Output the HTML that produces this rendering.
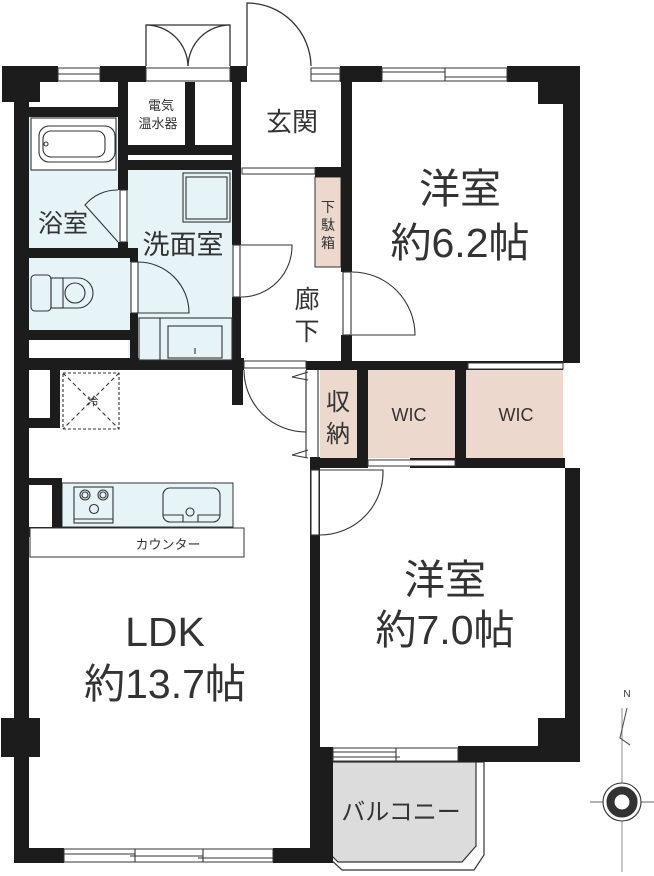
<!DOCTYPE html>
<html><head><meta charset="utf-8"><style>
html,body{margin:0;padding:0;background:#fff;}
svg{display:block;}
text{font-family:"Liberation Sans","Noto Sans CJK JP",sans-serif;fill:#333;}
</style></head><body>
<svg width="654" height="876" viewBox="0 0 654 876" xmlns="http://www.w3.org/2000/svg">
<g fill="none" stroke="#333" stroke-width="1.3">
<path d="M146 66 V25 H230 V66"/>
<path d="M146 25 A42 42 0 0 1 188 66"/>
<path d="M230 25 A42 42 0 0 0 188 66"/>
<path d="M247 66 V3 A64 64 0 0 1 311 66"/>
</g>
<rect x="29" y="117" width="89" height="131" fill="#e6f4f8"/>
<rect x="128" y="170" width="104" height="190" fill="#e6f4f8"/>
<rect x="29" y="258" width="101" height="72" fill="#e6f4f8"/>
<rect x="62" y="483" width="171" height="44" fill="#e6f4f8" stroke="#333" stroke-width="1"/>
<rect x="315" y="177" width="26" height="90" fill="#ecd8cc" stroke="#333" stroke-width="1"/>
<rect x="320" y="370" width="37" height="88" fill="#ecd8cc"/>
<rect x="368" y="370" width="87" height="88" fill="#ecd8cc"/>
<rect x="466" y="370" width="97" height="88" fill="#ecd8cc"/>
<path d="M318 762 H484 V855 L474 870 H342 L318 848 Z" fill="none" stroke="#333" stroke-width="1.2"/>
<path d="M326 762 H476 V846 L462 862 H338 L326 850 Z" fill="#dcdcdc" stroke="#333" stroke-width="1.2"/>
<g fill="#1c1c1c">
<rect x="2" y="66" width="38" height="36"/>
<rect x="2" y="66" width="56" height="16"/>
<rect x="100" y="66" width="46" height="16"/>
<rect x="230" y="66" width="17" height="16"/>
<rect x="340" y="66" width="42" height="16"/>
<rect x="507" y="66" width="73" height="16"/>
<rect x="538" y="82" width="25" height="22"/>
<rect x="563" y="66" width="17" height="297"/>
<rect x="14" y="66" width="15" height="797"/>
<rect x="1" y="718" width="39" height="39"/>
<rect x="14" y="848" width="50" height="15"/>
<rect x="273" y="848" width="53" height="15"/>
<rect x="310" y="458" width="10" height="405"/>
<rect x="320" y="747" width="13" height="116"/>
<rect x="458" y="746" width="122" height="16"/>
<rect x="538" y="718" width="42" height="44"/>
<rect x="565" y="468" width="15" height="294"/>
<rect x="29" y="107" width="99" height="10"/>
<rect x="118" y="82" width="10" height="108"/>
<rect x="118" y="242" width="10" height="16"/>
<rect x="185" y="82" width="10" height="63"/>
<rect x="118" y="145" width="123" height="10"/>
<rect x="118" y="160" width="123" height="10"/>
<rect x="232" y="66" width="9" height="179"/>
<rect x="232" y="297" width="9" height="73"/>
<rect x="29" y="248" width="109" height="10"/>
<rect x="130" y="258" width="8" height="4"/>
<rect x="130" y="313" width="8" height="47"/>
<rect x="29" y="330" width="101" height="10"/>
<rect x="14" y="358" width="230" height="12"/>
<rect x="306" y="361" width="257" height="9"/>
<rect x="232" y="370" width="11" height="35"/>
<rect x="341" y="82" width="11" height="190"/>
<rect x="341" y="335" width="11" height="30"/>
<rect x="315" y="167" width="26" height="10"/>
<rect x="310" y="457" width="10" height="11"/>
<rect x="357" y="370" width="11" height="98"/>
<rect x="455" y="370" width="11" height="98"/>
<rect x="320" y="458" width="48" height="10"/>
<rect x="410" y="458" width="155" height="10"/>
<rect x="29" y="418" width="31" height="10"/>
<rect x="50" y="370" width="10" height="58"/>
<rect x="29" y="478" width="33" height="7"/>
<rect x="52" y="478" width="10" height="50"/>
<rect x="29" y="527" width="91" height="10"/>
</g>
<g fill="#fff" stroke="#333" stroke-width="1">
<rect x="58" y="68" width="42" height="13"/>
<rect x="146" y="68" width="84" height="13"/>
<rect x="311" y="68" width="29" height="13"/>
<rect x="382" y="68" width="125" height="13"/>
<rect x="64" y="849" width="209" height="13"/>
<rect x="333" y="748" width="125" height="13"/>
<rect x="468" y="363" width="95" height="6"/>
<rect x="368" y="460" width="87" height="6"/>
<rect x="30" y="528" width="214" height="29"/>
<rect x="242" y="168" width="73" height="6"/>
<rect x="244" y="361" width="62" height="7"/>
</g>
<g fill="none" stroke="#333" stroke-width="1.1">
<line x1="58" y1="74" x2="100" y2="74"/><line x1="311" y1="74" x2="340" y2="74"/>
<line x1="382" y1="72" x2="445" y2="72"/><line x1="445" y1="77" x2="507" y2="77"/><line x1="445" y1="68" x2="445" y2="81"/>
<line x1="64" y1="854" x2="135" y2="854"/><line x1="135" y1="849" x2="135" y2="862"/><line x1="130" y1="856" x2="203" y2="856"/><line x1="203" y1="849" x2="203" y2="862"/><line x1="198" y1="858" x2="273" y2="858"/>
<line x1="333" y1="752" x2="396" y2="752"/><line x1="396" y1="748" x2="396" y2="761"/><line x1="333" y1="757" x2="400" y2="757"/>
<rect x="31" y="118" width="85" height="52" fill="#fff"/>
<rect x="39" y="126" width="76" height="36" rx="10"/>
<rect x="43" y="131" width="62" height="26" rx="8"/>
<circle cx="46" cy="144" r="2"/>
<rect x="31" y="275" width="20" height="36" rx="4"/>
<rect x="51" y="278" width="12" height="30"/>
<path d="M63 278 H78 A15 15 0 0 1 78 308 H63"/>
<circle cx="75" cy="293" r="10"/>
<rect x="183" y="173" width="47" height="49"/><rect x="186" y="177" width="41" height="42"/>
<rect x="139" y="318" width="93" height="42" fill="#e6f4f8"/>
<line x1="160" y1="318" x2="160" y2="360"/>
<rect x="168" y="326" width="54" height="32"/>
<line x1="195" y1="348" x2="195" y2="354"/>
<rect x="120" y="190" width="7" height="52" fill="#fff"/>
<path d="M118 242 L85 205 A42 42 0 0 1 118 190"/>
<rect x="131" y="262" width="7" height="51" fill="#fff"/>
<path d="M138 262 A51 51 0 0 1 189 313 H138"/>
<rect x="233" y="245" width="7" height="52" fill="#fff"/>
<path d="M241 245 H292 A51 51 0 0 1 241 297"/>
<rect x="343" y="272" width="8" height="63" fill="#fff"/>
<path d="M352 272 A63 63 0 0 1 415 335 H352"/>
<path d="M244 370 A62 62 0 0 0 306 432 V370"/>
<line x1="306" y1="370" x2="306" y2="458"/><line x1="318" y1="370" x2="318" y2="458"/>
<path d="M308 372 L292 377 L308 380"/><path d="M308 450 L292 455 L308 458"/>
<rect x="311" y="470" width="8" height="65" fill="#fff"/>
<path d="M320 470 H383 A63 63 0 0 1 320 535"/>
<rect x="63" y="373" width="56" height="56" stroke-dasharray="3,2"/>
<path d="M63 373 L119 429 M119 373 L63 429" stroke-dasharray="4,3"/>
<rect x="74" y="487" width="39" height="36"/><line x1="74" y1="519" x2="113" y2="519"/>
<circle cx="85" cy="495" r="5"/><circle cx="85" cy="495" r="3"/><circle cx="103" cy="495" r="5"/><circle cx="103" cy="495" r="3"/><circle cx="94" cy="509" r="4.5"/>
<rect x="163" y="488" width="57" height="34" rx="7"/>
<circle cx="190" cy="512" r="4"/>
<path d="M163 515 H183 V522 M220 515 H198 V522"/>
<line x1="622" y1="708" x2="622" y2="872" stroke="#999"/>
<line x1="590" y1="802" x2="654" y2="802" stroke="#666"/>
<path d="M627 708 L620 738 L630 745" stroke="#555"/>
<circle cx="622" cy="802" r="19" fill="#fff"/>
<circle cx="622" cy="802" r="15" fill="#333"/>
<circle cx="622" cy="802" r="8" fill="#fff"/>
</g>
<g fill="#333">
<text x="627" y="697" font-size="10" text-anchor="middle">N</text>
<text x="161" y="110" font-size="13" text-anchor="middle">電気</text>
<text x="158" y="128" font-size="13" text-anchor="middle">温水器</text>
<text x="292" y="131" font-size="26" text-anchor="middle">玄関</text>
<text x="63" y="232" font-size="25" text-anchor="middle">浴室</text>
<text x="183" y="254" font-size="27" text-anchor="middle">洗面室</text>
<text x="328" y="212" font-size="14" text-anchor="middle">下</text>
<text x="328" y="230" font-size="14" text-anchor="middle">駄</text>
<text x="328" y="248" font-size="14" text-anchor="middle">箱</text>
<text x="307" y="308" font-size="25" text-anchor="middle">廊</text>
<text x="307" y="340" font-size="25" text-anchor="middle">下</text>
<text x="338" y="410" font-size="24" text-anchor="middle">収</text>
<text x="338" y="442" font-size="24" text-anchor="middle">納</text>
<text x="409" y="421" font-size="18" text-anchor="middle">WIC</text>
<text x="516" y="421" font-size="18" text-anchor="middle">WIC</text>
<text x="93" y="405" font-size="11" text-anchor="middle">冷</text>
<text x="168" y="549" font-size="13" text-anchor="middle">カウンター</text>
<text x="460" y="203" font-size="41" text-anchor="middle">洋室</text>
<text x="460" y="257" font-size="41" text-anchor="middle">約6.2帖</text>
<text x="445" y="594" font-size="41" text-anchor="middle">洋室</text>
<text x="445" y="644" font-size="41" text-anchor="middle">約7.0帖</text>
<text x="165" y="646" font-size="41" text-anchor="middle">LDK</text>
<text x="165" y="698" font-size="41" text-anchor="middle">約13.7帖</text>
<text x="401" y="820" font-size="24" text-anchor="middle">バルコニー</text>
</g>
</svg>
</body></html>
